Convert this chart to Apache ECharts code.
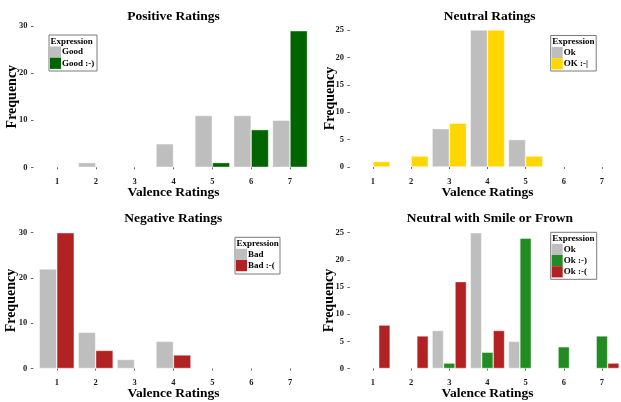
<!DOCTYPE html>
<html>
<head>
<meta charset="utf-8">
<script src="https://cdn.jsdelivr.net/npm/echarts@6/dist/echarts.min.js"></script>
<style>
html,body{margin:0;padding:0;background:#fff;}
#chart{width:621px;height:402px;}
</style>
</head>
<body>
<div id="chart"></div>
<script>
// ---- data ----
const categories = ['1', '2', '3', '4', '5', '6', '7'];

const panelTitles = ['Positive Ratings', 'Neutral Ratings', 'Negative Ratings', 'Neutral with Smile or Frown'];
const xAxisTitle = 'Valence Ratings';
const yAxisTitle = 'Frequency';
const legendTitle = 'Expression';

const posNames = ['Good', 'Good :-)'];
const posGood = [0, 1, 0, 5, 11, 11, 10];
const posGoodSmile = [0, 0, 0, 0, 1, 8, 29];

const neuNames = ['Ok', 'OK :-|'];
const neuOk = [0, 0, 7, 25, 5, 0, 0];
const neuOkFlat = [1, 2, 8, 25, 2, 0, 0];

const negNames = ['Bad', 'Bad :-('];
const negBad = [22, 8, 2, 6, 0, 0, 0];
const negBadFrown = [30, 4, 0, 3, 0, 0, 0];

const mixNames = ['Ok', 'Ok :-)', 'Ok :-('];
const mixOk = [0, 0, 7, 25, 5, 0, 0];
const mixOkSmile = [0, 0, 1, 3, 24, 4, 6];
const mixOkFrown = [8, 6, 16, 7, 0, 0, 1];

const yMax = [30, 25, 30, 25];
const yStep = [10, 5, 10, 5];

// ---- styling / layout ----
const FONT = '"Liberation Serif", "Times New Roman", serif';
const GREY = '#BEBEBE';
const DARKGREEN = '#006400';
const GOLD = '#FFD700';
const FIREBRICK = '#B22222';
const FORESTGREEN = '#228B22';

const grids = [
  {left: 37.6, top: 26, width: 271.8, height: 141.3},
  {left: 353.9, top: 30, width: 271.1, height: 137},
  {left: 37.3, top: 232.7, width: 272.3, height: 137.3},
  {left: 353.9, top: 232.7, width: 271.1, height: 136.6}
];

const titlePos = [[173.5, 16.7], [489.6, 16.7], [173.3, 219], [489.8, 219]];
const yNameGap = [21.5, 20, 21.5, 20.5];
const legendBoxes = [
  {x: 49, y: 35, w: 48, h: 36},
  {x: 550.7, y: 35.5, w: 45.5, h: 35.5},
  {x: 235, y: 237.3, w: 45, h: 36.7},
  {x: 550.7, y: 232.3, w: 46, h: 47}
];

const xAxes = grids.map((g, i) => ({
  type: 'category',
  gridIndex: i,
  data: categories,
  offset: 7,
  axisLine: {show: false},
  axisTick: {show: true, length: 2, alignWithLabel: true, lineStyle: {color: '#666', width: 1}},
  axisLabel: {margin: 3, fontFamily: FONT, fontWeight: 'bold', fontSize: 8.5, color: '#1a1a1a'},
  splitLine: {show: false},
  name: xAxisTitle,
  nameLocation: 'middle',
  nameGap: 18.5,
  nameMoveOverlap: false,
  nameTextStyle: {fontFamily: FONT, fontWeight: 'bold', fontSize: 13.5, color: '#000', verticalAlign: 'middle'}
}));

const yAxes = grids.map((g, i) => ({
  type: 'value',
  gridIndex: i,
  min: 0,
  max: yMax[i],
  interval: yStep[i],
  offset: 4,
  axisLine: {show: false},
  axisTick: {show: true, length: 2.5, lineStyle: {color: '#666', width: 1}},
  axisLabel: {margin: 6, fontFamily: FONT, fontWeight: 'bold', fontSize: 8.5, color: '#1a1a1a'},
  splitLine: {show: false},
  name: yAxisTitle,
  nameLocation: 'middle',
  nameRotate: 90,
  nameGap: yNameGap[i],
  nameMoveOverlap: false,
  nameTextStyle: {fontFamily: FONT, fontWeight: 'bold', fontSize: 14, color: '#000', verticalAlign: 'middle'}
}));

function bar(name, data, color, idx) {
  return {
    type: 'bar',
    name: name,
    // zero counts are simply absent bars
    data: data.map(v => (v === 0 ? null : v)),
    xAxisIndex: idx,
    yAxisIndex: idx,
    barGap: '0%',
    barCategoryGap: '10%',
    itemStyle: {color: color, borderColor: 'rgba(255,255,255,0.7)', borderWidth: 0.6},
    emphasis: {disabled: true},
    animation: false
  };
}

const series = [
  bar(posNames[0], posGood, GREY, 0),
  bar(posNames[1], posGoodSmile, DARKGREEN, 0),
  bar(neuNames[0], neuOk, GREY, 1),
  bar(neuNames[1], neuOkFlat, GOLD, 1),
  bar(negNames[0], negBad, GREY, 2),
  bar(negNames[1], negBadFrown, FIREBRICK, 2),
  bar(mixNames[0], mixOk, GREY, 3),
  bar(mixNames[1], mixOkSmile, FORESTGREEN, 3),
  bar(mixNames[2], mixOkFrown, FIREBRICK, 3)
];

const legendNames = [posNames, neuNames, negNames, mixNames];
const legends = legendBoxes.map((b, i) => ({
  data: legendNames[i],
  orient: 'vertical',
  left: b.x + 1,
  top: b.y + 11.5,
  padding: 0,
  itemWidth: 11,
  itemHeight: 11.2,
  itemGap: 0,
  icon: 'rect',
  selectedMode: false,
  itemStyle: {borderWidth: 0},
  textStyle: {fontFamily: FONT, fontWeight: 'bold', fontSize: 9, lineHeight: 10, color: '#000', padding: [0, 0, 0, -4]}
}));

const graphics = [];
panelTitles.forEach((t, i) => {
  graphics.push({
    type: 'text', x: titlePos[i][0], y: titlePos[i][1], silent: true,
    style: {text: t, fontFamily: FONT, fontWeight: 'bold', fontSize: 13.5, fill: '#000', align: 'center', verticalAlign: 'middle'}
  });
});
legendBoxes.forEach((b) => {
  graphics.push({
    type: 'rect', shape: {x: b.x, y: b.y, width: b.w, height: b.h}, silent: true, z: -1,
    style: {fill: '#fff', stroke: '#7a7a7a', lineWidth: 1}
  });
  graphics.push({
    type: 'text', x: b.x + 1.5, y: b.y + 6.5, silent: true,
    style: {text: legendTitle, fontFamily: FONT, fontWeight: 'bold', fontSize: 9, fill: '#000', align: 'left', verticalAlign: 'middle'}
  });
});

const chart = echarts.init(document.getElementById('chart'), null, {renderer: 'canvas'});
chart.setOption({
  backgroundColor: '#fff',
  animation: false,
  grid: grids.map(g => Object.assign({containLabel: false}, g)),
  xAxis: xAxes,
  yAxis: yAxes,
  legend: legends,
  series: series,
  graphic: graphics
});
</script>
</body>
</html>
